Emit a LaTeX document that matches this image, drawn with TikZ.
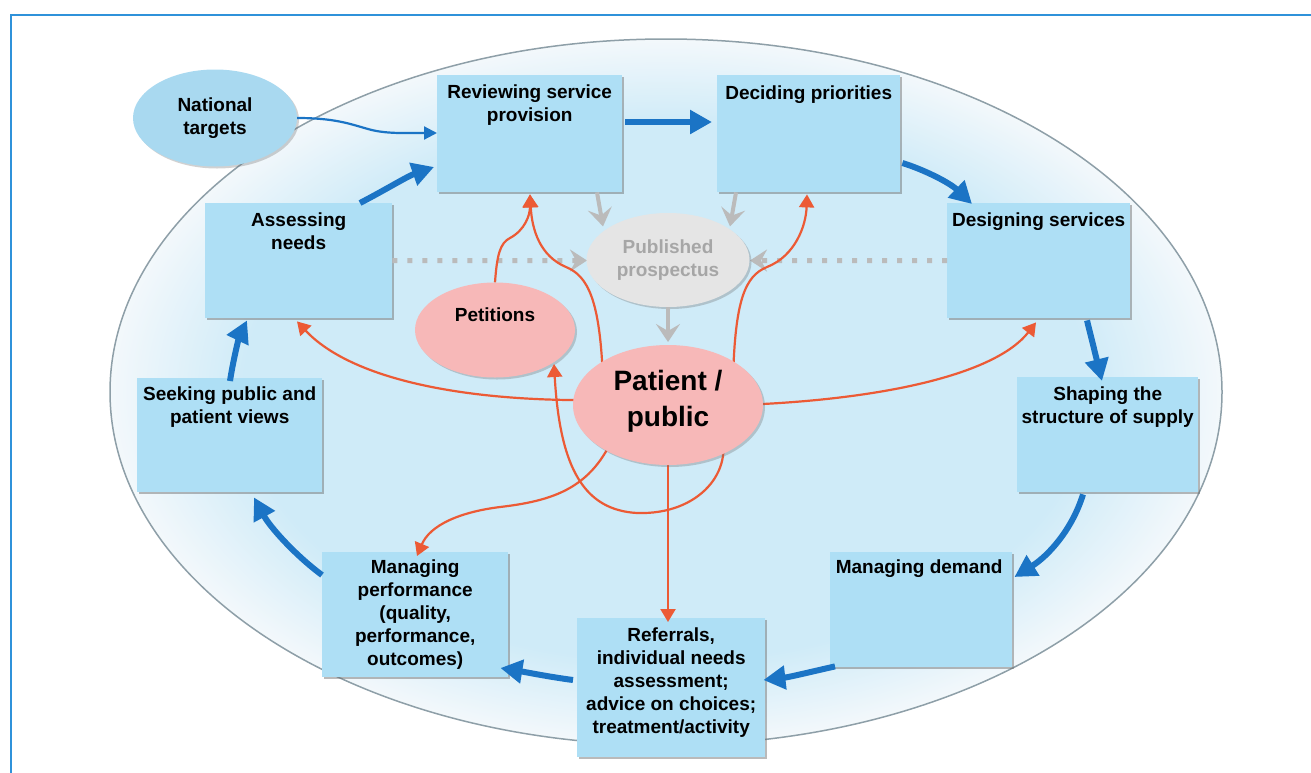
\documentclass[tikz,border=0pt]{standalone}
\usepackage{fontspec}
\setmainfont{Liberation Sans}
\usetikzlibrary{arrows.meta,shapes.geometric,shadows}
\definecolor{inbl}{HTML}{CFEBF8}
\definecolor{outbl}{HTML}{F3F8FB}
\definecolor{boxbl}{HTML}{AEDFF5}
\definecolor{cyc}{HTML}{1B74C5}
\definecolor{redl}{HTML}{EC5A35}
\definecolor{pinkf}{HTML}{F7B8B8}
\definecolor{grayf}{HTML}{E5E5E5}
\definecolor{grayl}{HTML}{BBBBBB}
\definecolor{grayt}{HTML}{A6A6A6}
\definecolor{framebl}{HTML}{2F92DA}
\definecolor{natf}{HTML}{A9D9F0}
\definecolor{ellline}{HTML}{8E9FA8}
\pgfdeclareradialshading{ellshade}{\pgfpoint{0bp}{0bp}}{color(0bp)=(inbl); color(19bp)=(inbl); color(25bp)=(outbl); color(50bp)=(outbl)}
\begin{document}
\begin{tikzpicture}[x=1pt,y=-1pt,
  box/.style={rectangle, fill=boxbl, draw=none, anchor=north west, inner sep=0pt,
    drop shadow={shadow xshift=1.5pt, shadow yshift=-1.5pt, opacity=0.45, fill=black!60}},
  boxtxt/.style={font=\fontsize{19}{23}\selectfont\bfseries, align=center, inner sep=0pt, anchor=north},
  oval/.style={ellipse, inner sep=0pt,
    drop shadow={shadow xshift=2pt, shadow yshift=-2pt, opacity=0.3, fill=black!60}},
  cycarr/.style={draw=cyc, line width=6pt, -{Triangle[length=22pt,width=23pt]}},
  natarr/.style={draw=cyc, line width=2.2pt, -{Triangle[length=13pt,width=13pt]}},
  redarr/.style={draw=redl, line width=2.2pt, -{Triangle[length=13pt,width=15pt]}},
  grayarr/.style={draw=grayl, line width=5pt, dash pattern=on 5pt off 10pt, -{Stealth[length=17pt,width=22pt,inset=6pt]}},
  grayhd/.style={draw=grayl, line width=4pt, -{Stealth[length=18pt,width=24pt,inset=7pt]}}
]
\useasboundingbox (0,0) rectangle (1311,772);
% frame
\draw[framebl, line width=1.8pt] (11,790) -- (11,15) -- (1330,15);
% background ellipse
\node[ellipse, shade, shading=ellshade, draw=ellline, line width=1.5pt, minimum width=1112pt, minimum height=706pt, inner sep=0pt] (bg) at (666,392) {};

% boxes
\node[box, minimum width=185pt, minimum height=117pt] (rev) at (437,75) {};
\node[box, minimum width=183pt, minimum height=117pt] (dec) at (717,75) {};
\node[box, minimum width=183pt, minimum height=115pt] (des) at (947,203) {};
\node[box, minimum width=181pt, minimum height=115pt] (sha) at (1017,377) {};
\node[box, minimum width=182pt, minimum height=115pt] (dem) at (830,552) {};
\node[box, minimum width=188pt, minimum height=139pt] (ref) at (577,618) {};
\node[box, minimum width=186pt, minimum height=125pt] (perf) at (322,552) {};
\node[box, minimum width=185pt, minimum height=114pt] (seek) at (137,378) {};
\node[box, minimum width=187pt, minimum height=115pt] (ass) at (205,203) {};

\node[boxtxt] (revT) at ([yshift=-10pt]rev.north) {Reviewing service\\provision};
\node[boxtxt] (decT) at ([yshift=-11pt]dec.north) {Deciding priorities};
\node[boxtxt] (desT) at ([yshift=-10pt]des.north) {Designing services};
\node[boxtxt] (shaT) at ([yshift=-10pt]sha.north) {Shaping the\\structure of supply};
\node[boxtxt] (demT) at ([yshift=-8pt,xshift=-2pt]dem.north) {Managing demand};
\node[boxtxt] (refT) at ([yshift=-10pt]ref.north) {Referrals,\\individual needs\\assessment;\\advice on choices;\\treatment/activity};
\node[boxtxt] (perfT) at ([yshift=-8pt]perf.north) {Managing\\performance\\(quality,\\performance,\\outcomes)};
\node[boxtxt] (seekT) at ([yshift=-9pt]seek.north) {Seeking public and\\patient views};
\node[boxtxt] (assT) at ([yshift=-10pt]ass.north) {Assessing\\needs};

% gray connectors (behind ovals)
\draw[grayarr] (ass.east) -- (587,260.5) coordinate (proW);
\draw[grayarr] (des.east -| des.west) -- (750,260.5) coordinate (proE);
\draw[grayhd] ([xshift=160pt]rev.south west) -- ([xshift=166pt,yshift=-34pt]rev.south west) coordinate (proNW);
\draw[grayhd] ([xshift=19pt]dec.south west) -- ([xshift=13pt,yshift=-34pt]dec.south west) coordinate (proNE);

% ovals
\node[oval, fill=natf, minimum width=164pt, minimum height=97pt] (nat) at (215,118) {};
\node[boxtxt, anchor=center] (natT) at (nat.center) {National\\targets};
\node[oval, fill=grayf, minimum width=163pt, minimum height=94pt] (pro) at (668,260) {};
\node[boxtxt, anchor=center, text=grayt] (proT) at (pro.center) {Published\\prospectus};
\node[oval, fill=pinkf, minimum width=160pt, minimum height=95pt] (pet) at (495,330) {};
\node[boxtxt, anchor=center] (petT) at ([yshift=15pt]pet.center) {Petitions};

\draw[grayhd] (pro.south) -- (668,342) coordinate (patN);

% national targets arrow
\draw[natarr] (nat.east) .. controls (335,118) and (350,124) .. (368,129) .. controls (385,134) and (405,133) .. ([yshift=-58pt]rev.north west);

% cycle arrows
\draw[cycarr] ([xshift=155pt]ass.north west) .. controls (385,190) and (408,176) .. ([xshift=-3pt,yshift=-92pt]rev.north west);
\draw[cycarr] ([xshift=3pt,yshift=-47pt]rev.north east) -- ([xshift=-5pt,yshift=-47pt]dec.north west);
\draw[cycarr] ([xshift=2pt,yshift=-88pt]dec.north east) .. controls (925,170) and (950,183) .. ([xshift=25pt,yshift=-1pt]des.north west);
\draw[cycarr] ([xshift=140pt,yshift=-2pt]des.south west) -- ([xshift=85pt,yshift=-4pt]sha.north west);
\draw[cycarr] ([xshift=66pt,yshift=-2pt]sha.south west) .. controls (1072,530) and (1048,556) .. ([xshift=2pt,yshift=-25pt]dem.north east);
\draw[cycarr] ([xshift=5pt,yshift=1pt]dem.south west) .. controls (810,672) and (790,677) .. ([xshift=-2pt,yshift=-62pt]ref.north east);
\draw[cycarr] ([xshift=-4pt,yshift=-62pt]ref.north west) .. controls (550,677) and (525,672) .. ([xshift=-8pt,yshift=-116pt]perf.north east);
\draw[cycarr] ([yshift=-23pt]perf.north west) .. controls (295,555) and (270,527) .. ([xshift=117pt,yshift=-5pt]seek.south west);
\draw[cycarr] ([xshift=93pt,yshift=-3pt]seek.north west) .. controls (234,355) and (240,335) .. ([xshift=42pt,yshift=-2pt]ass.south west);

% red connectors (behind patient)
\draw[redarr] (600,400) .. controls (460,402) and (350,378) .. ([xshift=92pt,yshift=-3pt]ass.south west);
\draw[redarr] (740,405) .. controls (880,400) and (995,375) .. ([xshift=89pt,yshift=-4pt]des.south west);
\draw[redarr] (603,380) .. controls (600,300) and (588,276) .. (566,267) .. controls (540,256) and (532,230) .. ([xshift=93pt,yshift=-2pt]rev.south west);
\draw[redarr] (pet.north) .. controls (497,255) and (500,243) .. (510,238) .. controls (525,230) and (530,215) .. ([xshift=93pt,yshift=-2pt]rev.south west);
\draw[redarr] (733,380) .. controls (735,300) and (745,276) .. (767,267) .. controls (795,256) and (806,226) .. ([xshift=90pt,yshift=-2pt]dec.south west);
\draw[redarr] (720,430) .. controls (735,470) and (700,515) .. (637,513) .. controls (585,510) and (560,470) .. (554,364) coordinate (petS);
\draw[redarr] (620,420) .. controls (598,485) and (560,500) .. (500,507) .. controls (460,512) and (430,525) .. ([xshift=95pt,yshift=-4pt]perf.north west);
\draw[redarr] (668,440) -- ([yshift=-4pt]ref.north -| 668,0);

% patient
\node[oval, fill=pinkf, minimum width=190pt, minimum height=120pt] (pat) at (668,405) {};
\node[font=\fontsize{28}{36}\selectfont\bfseries, align=center, inner sep=0pt] (patT) at ([yshift=4pt]pat.center) {Patient /\\public};
\end{tikzpicture}
\end{document}
